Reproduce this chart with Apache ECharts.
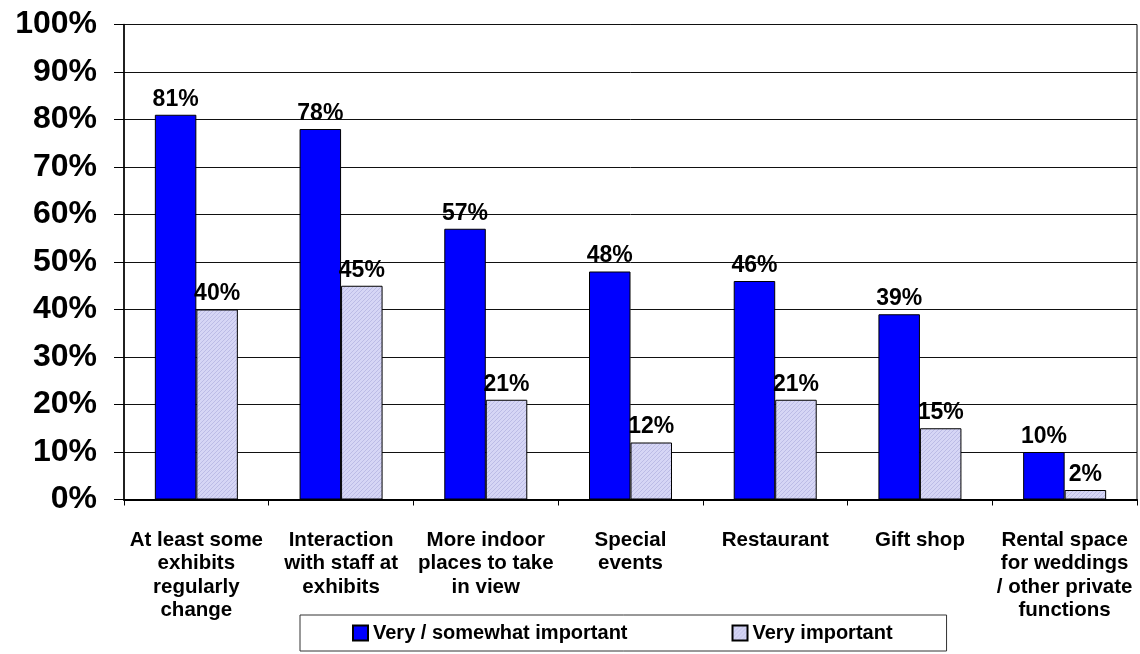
<!DOCTYPE html>
<html>
<head>
<meta charset="utf-8">
<style>
  html, body { margin: 0; padding: 0; background: #fff; }
  #chart { width: 1140px; height: 654px; }
</style>
<script src="https://cdn.jsdelivr.net/npm/echarts@6/dist/echarts.min.js"></script>
</head>
<body>
<div id="chart"></div>
<script>
const categories = [
  'At least some\nexhibits\nregularly\nchange',
  'Interaction\nwith staff at\nexhibits',
  'More indoor\nplaces to take\nin view',
  'Special\nevents',
  'Restaurant',
  'Gift shop',
  'Rental space\nfor weddings\n/ other private\nfunctions'
];
const seriesNames = ['Very / somewhat important', 'Very important'];
const verySomewhat = [81, 78, 57, 48, 46, 39, 10];
const veryImportant = [40, 45, 21, 12, 21, 15, 2];
const yTicks = [0, 10, 20, 30, 40, 50, 60, 70, 80, 90, 100];

const FONT = '"Liberation Sans", Arial, sans-serif';

// fine diagonal hatch used for the lighter series
function hatchPattern() {
  const c = document.createElement('canvas');
  c.width = 4; c.height = 4;
  const g = c.getContext('2d');
  g.fillStyle = '#d6d6f5';
  g.fillRect(0, 0, 4, 4);
  g.fillStyle = '#bcbce6';
  for (let i = 0; i < 4; i++) g.fillRect(i, 3 - i, 1, 1);
  return c;
}

const chart = echarts.init(document.getElementById('chart'), null, { renderer: 'canvas' });

const labelStyle = {
  show: true,
  position: 'top',
  distance: 4,
  formatter: p => p.value + '%',
  fontFamily: FONT,
  fontWeight: 'bold',
  fontSize: 23,
  color: '#000'
};

chart.setOption({
  animation: false,
  backgroundColor: '#fff',
  grid: {
    left: 124, right: 3, top: 24.5, bottom: 154.5,
    show: true, borderColor: '#000', borderWidth: 1
  },
  legend: {
    data: seriesNames,
    icon: 'rect',
    left: 300,
    top: 615,
    padding: [8, 54, 8, 52],
    itemGap: 104,
    itemWidth: 15,
    itemHeight: 15,
    borderColor: '#333',
    borderWidth: 1,
    textStyle: { fontFamily: FONT, fontWeight: 'bold', fontSize: 20, color: '#000' }
  },
  xAxis: {
    type: 'category',
    data: categories,
    axisLine: { lineStyle: { color: '#000', width: 2 } },
    axisTick: { show: true, alignWithLabel: false, length: 6, lineStyle: { color: '#000', width: 1 } },
    axisLabel: {
      interval: 0,
      margin: 29,
      fontFamily: FONT, fontWeight: 'bold', fontSize: 20.5, color: '#000',
      lineHeight: 23.5
    }
  },
  yAxis: {
    type: 'value',
    min: 0, max: 100, interval: 10,
    axisLine: { show: true, lineStyle: { color: '#000', width: 1.5 } },
    axisTick: { show: true, inside: false, length: 10, lineStyle: { color: '#000', width: 1 } },
    axisLabel: {
      margin: 27,
      formatter: v => yTicks.includes(v) ? v + '%' : '',
      fontFamily: FONT, fontWeight: 'bold', fontSize: 32, color: '#000'
    },
    splitLine: { show: true, lineStyle: { color: '#111', width: 1 } }
  },
  series: [
    {
      name: seriesNames[0],
      type: 'bar',
      data: verySomewhat,
      barWidth: 41.5,
      barGap: '0%',
      itemStyle: { color: '#0000ff', borderColor: '#000', borderWidth: 1 },
      label: labelStyle
    },
    {
      name: seriesNames[1],
      type: 'bar',
      data: veryImportant,
      barWidth: 41.5,
      barGap: '0%',
      itemStyle: { color: { image: hatchPattern(), repeat: 'repeat' }, borderColor: '#000', borderWidth: 1 },
      label: labelStyle
    }
  ]
});
</script>
</body>
</html>
